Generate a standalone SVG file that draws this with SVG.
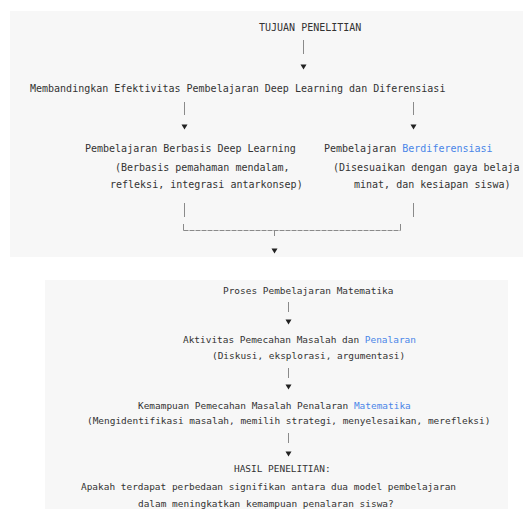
<svg xmlns="http://www.w3.org/2000/svg" xmlns:xlink="http://www.w3.org/1999/xlink" width="523" height="509" viewBox="0 0 523 509">
<style>
.t{font-family:"DejaVu Sans Mono","Liberation Mono",monospace;font-size:10px;fill:#333}
.s{font-size:9.45px}
.b{fill:#4a86e8}
.bar{stroke:#8a8a8a;stroke-width:1;fill:none}
.h{stroke:#8a8a8a;stroke-width:1;fill:none;stroke-dasharray:5 1}
.panel{fill:#f7f7f7}
</style>
<defs>
<path id="tri" d="M-3,-2.5 L3,-2.5 L0,2.5 Z" fill="#222"/>
</defs>
<rect class="panel" x="10" y="11" width="513" height="246"/>
<rect class="panel" x="45" y="280" width="463" height="229"/>
<g id="connectors">
<line class="bar" x1="303.5" y1="40" x2="303.5" y2="54"/>
<use xlink:href="#tri" x="303.5" y="67"/>
<line class="bar" x1="184.5" y1="102" x2="184.5" y2="115"/>
<line class="bar" x1="413.5" y1="102" x2="413.5" y2="115"/>
<use xlink:href="#tri" x="184.5" y="127"/>
<use xlink:href="#tri" x="413.5" y="127"/>
<line class="bar" x1="184.5" y1="203" x2="184.5" y2="217"/>
<line class="bar" x1="413.5" y1="203" x2="413.5" y2="217"/>
<path class="bar" d="M183.5,224 V230.5 M400.5,224 V230.5 M274.5,230.5 V236"/>
<line class="h" x1="183.5" y1="230.5" x2="400.5" y2="230.5"/>
<use xlink:href="#tri" x="274.5" y="251"/>
<line class="bar" x1="288.5" y1="302" x2="288.5" y2="312"/>
<use xlink:href="#tri" x="288.5" y="322"/>
<line class="bar" x1="288.5" y1="368" x2="288.5" y2="378"/>
<use xlink:href="#tri" x="288.5" y="387"/>
<line class="bar" x1="288.5" y1="433" x2="288.5" y2="443"/>
<use xlink:href="#tri" x="288.5" y="454"/>
</g>
<g id="tujuan"><text class="t" x="259" y="30.5">TUJUAN PENELITIAN</text></g>
<g id="membandingkan"><text class="t" x="30" y="91.5">Membandingkan Efektivitas Pembelajaran Deep Learning dan Diferensiasi</text></g>
<g id="deep-learning">
<text class="t" x="85" y="152">Pembelajaran Berbasis Deep Learning</text>
<text class="t" x="115" y="171">(Berbasis pemahaman mendalam,</text>
<text class="t" x="110" y="188">refleksi, integrasi antarkonsep)</text>
</g>
<g id="diferensiasi">
<text class="t" x="324" y="152">Pembelajaran <tspan class="b">Berdiferensiasi</tspan></text>
<text class="t" x="333" y="171">(Disesuaikan dengan gaya belaja</text>
<text class="t" x="354" y="188">minat, dan kesiapan siswa)</text>
</g>
<g id="proses"><text class="t s" x="223" y="293.5">Proses Pembelajaran Matematika</text></g>
<g id="aktivitas">
<text class="t s" x="183" y="342.5">Aktivitas Pemecahan Masalah dan <tspan class="b">Penalaran</tspan></text>
<text class="t s" x="212" y="359">(Diskusi, eksplorasi, argumentasi)</text>
</g>
<g id="kemampuan">
<text class="t s" x="138" y="409">Kemampuan Pemecahan Masalah Penalaran <tspan class="b">Matematika</tspan></text>
<text class="t s" x="87" y="424">(Mengidentifikasi masalah, memilih strategi, menyelesaikan, merefleksi)</text>
</g>
<g id="hasil">
<text class="t s" x="234" y="472">HASIL PENELITIAN:</text>
<text class="t s" x="81" y="490">Apakah terdapat perbedaan signifikan antara dua model pembelajaran</text>
<text class="t s" x="138" y="507">dalam meningkatkan kemampuan penalaran siswa?</text>
</g>
</svg>
